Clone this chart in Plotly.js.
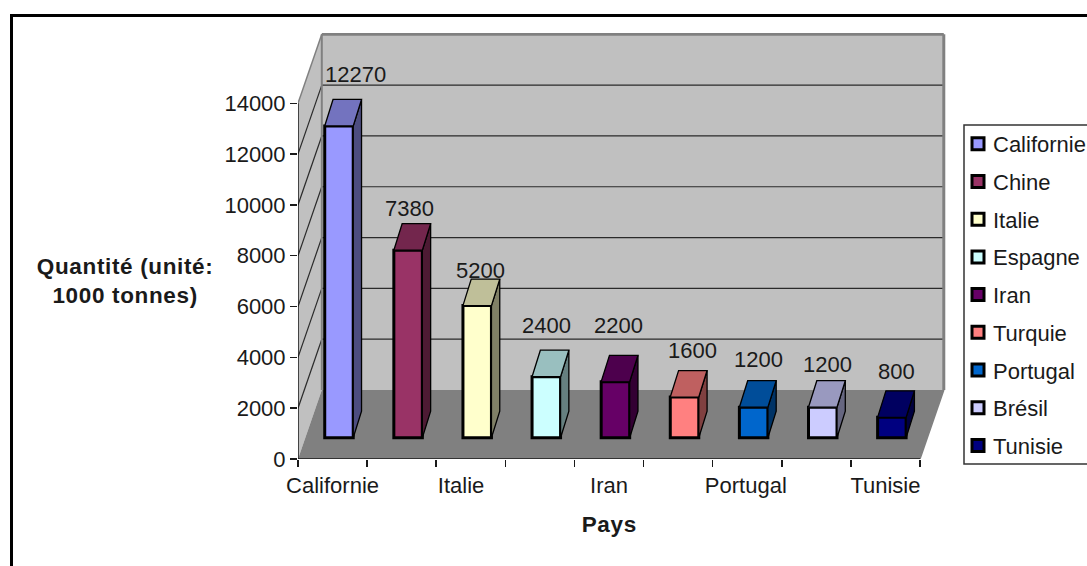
<!DOCTYPE html>
<html>
<head>
<meta charset="utf-8">
<script src="https://cdn.plot.ly/plotly-3.0.1.min.js"></script>
<style>
html,body{margin:0;padding:0;background:#fff;overflow:hidden}
.annotation[data-index="9"] text,.annotation[data-index="10"] text{letter-spacing:.65px}
.legendsymbols{transform:translateX(5px)}
</style>
</head>
<body>
<div id="chart" style="width:1087px;height:566px"></div>
<script>
// --- data ---
const categories = ["Californie","Chine","Italie","Espagne","Iran","Turquie","Portugal","Brésil","Tunisie"];
const quantities = [12270,7380,5200,2400,2200,1600,1200,1200,800];
const colors = ["#9999FF","#993366","#FFFFCC","#CCFFFF","#660066","#FF8080","#0066CC","#CCCCFF","#000080"];
const yTicks = [0,2000,4000,6000,8000,10000,12000,14000];
const xLabelPositions = [0.5,2.36,4.5,6.48,8.5];
const xLabels = ["Californie","Italie","Iran","Portugal","Tunisie"];

// --- data-label nudges in pixels, from the centre of each bar's front top edge ---
const labelDx = [17,1,3,0,3,8,5,5,5];
const labelDy = [51,42,35,51,56,47,48,43,46];

// --- page geometry ---
const W = 1087, H = 566;
const M = {l:298, r:141, t:33, b:107};
const PW = W-M.l-M.r, PH = H-M.t-M.b;
const pxPerCat = 69.11, pxPerUnit = 0.025407;
const xRange = [0, PW/pxPerCat], yRange = [0, PH/pxPerUnit];
const yMax = 14000, nCat = categories.length;
const wallDx = 23.8/pxPerCat, wallDy = 69/pxPerUnit;
const barDx = 8.3/pxPerCat, barDy = 26.5/pxPerUnit;
const barBase = 21.3/pxPerUnit, barShift = 0.593, barW = 28.5/pxPerCat;
const FONT = '"Liberation Sans", Arial, sans-serif';
const INK = "#1a1a1a";
const px = v => (v-M.l)/PW, py = v => 1-(v-M.t)/PH;

function shade(hex,k){
  const n = parseInt(hex.slice(1),16);
  return "rgb("+[(n>>16)&255,(n>>8)&255,n&255].map(c=>Math.round(c*k)).join(",")+")";
}
const poly = pts => "M"+pts.map(p=>p.join(",")).join("L")+"Z";

// --- bars ---
const traces = [];
categories.forEach((name,i)=>{
  traces.push({type:"bar",name:name,x:[i+barShift],y:[quantities[i]],base:[barBase],width:[barW],
    legendgroup:name,marker:{color:colors[i],line:{color:"#000",width:3}},hoverinfo:"name+y"});
});
categories.forEach((name,i)=>{
  const x0=i+barShift-barW/2, x1=i+barShift+barW/2, b=barBase, t=barBase+quantities[i];
  traces.push({type:"scatter",mode:"lines",x:[x1,x1+barDx,x1+barDx,x1,x1],y:[b,b+barDy,t+barDy,t,b],
    fill:"toself",fillcolor:shade(colors[i],0.5),line:{color:"#000",width:1.3},showlegend:false,hoverinfo:"skip",legendgroup:name});
  traces.push({type:"scatter",mode:"lines",x:[x0,x0+barDx,x1+barDx,x1,x0],y:[t,t+barDy,t+barDy,t,t],
    fill:"toself",fillcolor:shade(colors[i],0.75),line:{color:"#000",width:1.3},showlegend:false,hoverinfo:"skip",legendgroup:name});
});

// --- walls, floor, gridlines, axis lines ---
const shapes = [];
const wall = (pts,fill)=>shapes.push({type:"path",xref:"x",yref:"y",layer:"below",path:poly(pts),fillcolor:fill,line:{width:0}});
const seg = (x0,y0,x1,y1,color,width)=>shapes.push({type:"line",xref:"x",yref:"y",layer:"below",x0,y0,x1,y1,line:{color,width}});
wall([[wallDx,wallDy],[nCat+wallDx,wallDy],[nCat+wallDx,wallDy+yMax],[wallDx,wallDy+yMax]],"#C0C0C0");
wall([[0,0],[wallDx,wallDy],[wallDx,wallDy+yMax],[0,yMax]],"#C0C0C0");
wall([[0,0],[nCat,0],[nCat+wallDx,wallDy],[wallDx,wallDy]],"#808080");
yTicks.filter(v=>v>0&&v<yMax).forEach(v=>{
  seg(wallDx,v+wallDy,nCat+wallDx,v+wallDy,"#2a2a2a",1.2);
  seg(0,v,wallDx,v+wallDy,"#2a2a2a",1.2);
});
seg(wallDx,yMax+wallDy,nCat+wallDx,yMax+wallDy,"#808080",3);
seg(nCat+wallDx,wallDy,nCat+wallDx,yMax+wallDy,"#808080",3);
seg(wallDx,wallDy,wallDx,yMax+wallDy,"#808080",2);
seg(0,yMax,wallDx,yMax+wallDy,"#808080",1.5);
seg(nCat,0,nCat+wallDx,wallDy,"#808080",1.5);
seg(0,0,0,yMax,INK,1.5);
seg(0,0,nCat,0,INK,1.5);

// page frame and legend box
const paperPath = (d,color,width)=>shapes.push({type:"path",xref:"paper",yref:"paper",layer:"below",path:d,line:{color,width}});
paperPath(`M${px(11.5)},${py(566)}L${px(11.5)},${py(15.5)}L${px(1090)},${py(15.5)}`,"#000",3);
paperPath(`M${px(1090)},${py(125)}L${px(964)},${py(125)}L${px(964)},${py(464)}L${px(1090)},${py(464)}`,"#333",1.5);

// --- text outside the plotting scales ---
const annotations = categories.map((c,i)=>({
  x:i+barShift,y:barBase+quantities[i],xref:"x",yref:"y",text:String(quantities[i]),showarrow:false,
  xanchor:"center",yanchor:"middle",xshift:labelDx[i],yshift:labelDy[i],font:{family:FONT,size:22,color:INK}
}));
annotations.push({x:px(125),y:py(281),xref:"paper",yref:"paper",showarrow:false,xanchor:"center",yanchor:"middle",
  text:"<b>Quantité (unité:<br>1000 tonnes)</b>",font:{family:FONT,size:22.5,color:INK}});
annotations.push({x:px(609),y:py(524),xref:"paper",yref:"paper",showarrow:false,xanchor:"center",yanchor:"middle",
  text:"<b>Pays</b>",font:{family:FONT,size:22.5,color:INK}});

const layout = {
  width:W,height:H,paper_bgcolor:"#fff",plot_bgcolor:"rgba(0,0,0,0)",
  margin:{l:M.l,r:M.r,t:M.t,b:M.b,autoexpand:false},
  barmode:"overlay",font:{family:FONT,size:22,color:INK},
  xaxis:{range:xRange,showgrid:false,zeroline:false,showline:false,tickmode:"array",tickvals:xLabelPositions,ticktext:xLabels,
    ticks:"",ticklabelstandoff:11,tickangle:0,
    minor:{tickmode:"array",tickvals:Array.from({length:nCat+1},(_,i)=>i),ticks:"outside",ticklen:7,tickwidth:1.5,tickcolor:INK,showgrid:false}},
  yaxis:{range:yRange,showgrid:false,zeroline:false,showline:false,tickmode:"array",tickvals:yTicks,ticktext:yTicks.map(String),ticks:"outside",ticklen:7,tickwidth:1.5,tickcolor:INK},
  showlegend:true,
  legend:{x:px(953),xanchor:"left",y:py(123),yanchor:"top",bgcolor:"rgba(0,0,0,0)",borderwidth:0,
    traceorder:"grouped",tracegroupgap:6.1,itemclick:false,itemdoubleclick:false,font:{family:FONT,size:22,color:INK}},
  shapes,annotations
};
Plotly.newPlot("chart",traces,layout,{displayModeBar:false,staticPlot:true});
</script>
</body>
</html>
